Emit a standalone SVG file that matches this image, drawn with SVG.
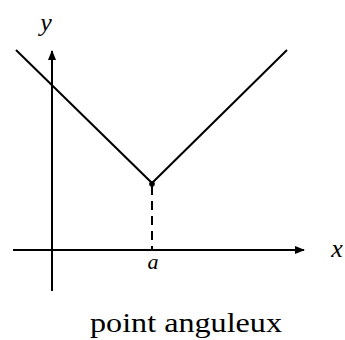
<svg xmlns="http://www.w3.org/2000/svg" width="345" height="340" viewBox="0 0 345 340">
<defs>
<marker id="arr" viewBox="0 0 10 8" refX="9" refY="4" markerWidth="10" markerHeight="8" markerUnits="userSpaceOnUse" orient="auto">
<path d="M0,0 L10,4 L0,8 Z" fill="#000"/>
</marker>
</defs>
<style>
.ln{stroke:#000;stroke-width:2;fill:none}
text{font-family:"Liberation Serif","DejaVu Serif",serif;fill:#000}
.it{font-style:italic}
</style>
<rect width="345" height="340" fill="#fff"/>
<g id="axes">
<line class="ln" x1="13" y1="250" x2="304" y2="250" marker-end="url(#arr)"/>
<line class="ln" x1="52" y1="291" x2="52" y2="51" marker-end="url(#arr)"/>
</g>
<g id="curve">
<polyline class="ln" points="16,50 152,183 287,50"/>
<circle cx="152" cy="184" r="2.8" fill="#000"/>
<line class="ln" x1="152" y1="186" x2="152" y2="250" stroke-dasharray="9,6"/>
</g>
<g id="labels">
<text class="it" x="46" y="31" font-size="26" text-anchor="middle">y</text>
<text class="it" x="337" y="257" font-size="26" text-anchor="middle">x</text>
<text class="it" x="153" y="269" font-size="22" text-anchor="middle">a</text>
<text x="90" y="332" font-size="27" textLength="192" lengthAdjust="spacingAndGlyphs">point anguleux</text>
</g>
</svg>
